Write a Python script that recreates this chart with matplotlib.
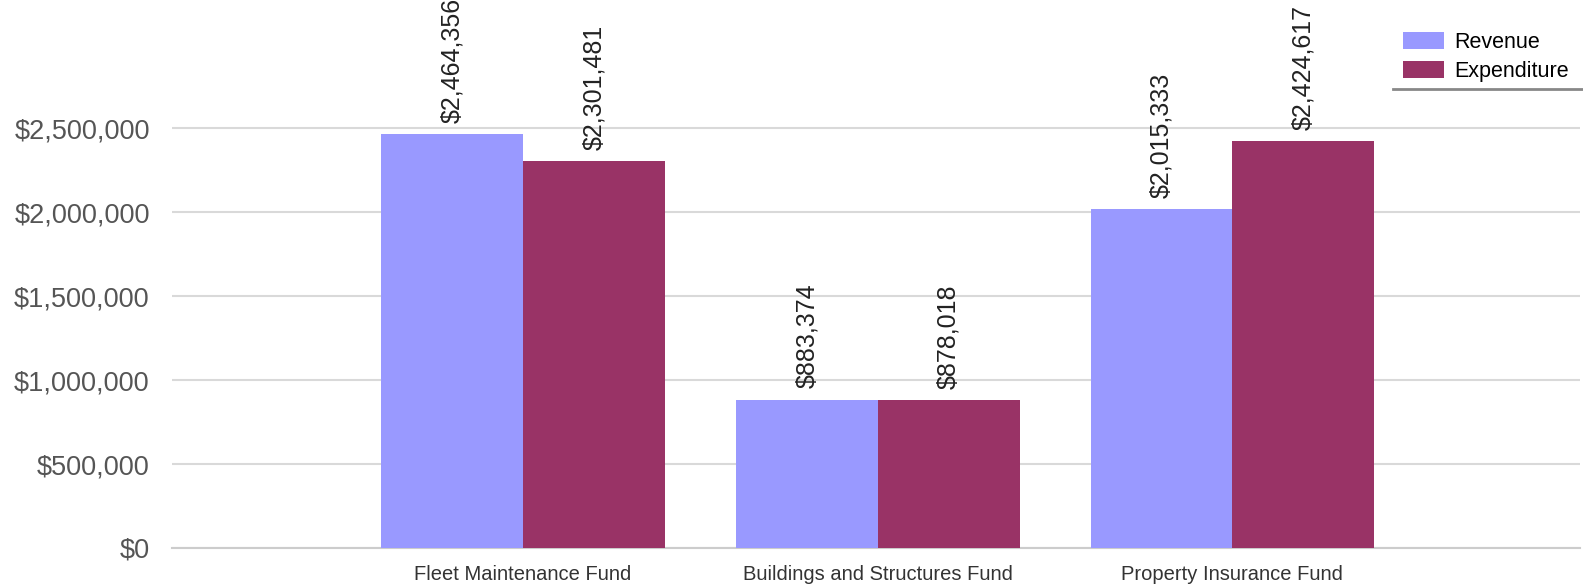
import matplotlib
matplotlib.use('Agg')
import matplotlib.pyplot as plt
import numpy as np
from matplotlib.lines import Line2D

plt.rcParams['font.family'] = ['Liberation Sans', 'DejaVu Sans']

categories = ['Fleet Maintenance Fund', 'Buildings and Structures Fund', 'Property Insurance Fund']
revenue = [2464356, 883374, 2015333]
expenditure = [2301481, 878018, 2424617]
yticks = [0, 500000, 1000000, 1500000, 2000000, 2500000]

W, H = 1583, 587
fig = plt.figure(figsize=(W / 100, H / 100), dpi=100)
ax = fig.add_axes([172 / W, 1 - 548 / H, (1580 - 172) / W, 548 / H])

x = np.arange(len(categories))
w = 0.4
b1 = ax.bar(x - w / 2, revenue, w, color='#9999ff', label='Revenue', zorder=3)
b2 = ax.bar(x + w / 2, expenditure, w, color='#993366', label='Expenditure', zorder=3)

fmt = lambda v: '${:,.0f}'.format(v)
for bars in (b1, b2):
    ax.bar_label(bars, labels=[fmt(v) for v in bars.datavalues], rotation=90,
                 padding=8, fontsize=18, color='#222222', clip_on=False)

ax.set_xlim(-0.99, 2.98)
ax.set_ylim(0, 2500000 * 548 / 420)
ax.set_yticks(yticks)
ax.set_yticklabels([fmt(v) for v in yticks], fontsize=19.5, color='#555555')
ax.set_xticks(x)
ax.set_xticklabels(categories, fontsize=14.5, color='#333333')
ax.tick_params(axis='y', length=0, pad=16)
ax.tick_params(axis='x', length=0, pad=12)
ax.grid(axis='y', color='#d9d9d9', linewidth=1.5, zorder=0)
for s in ['top', 'right', 'left']:
    ax.spines[s].set_visible(False)
ax.spines['bottom'].set_color('#cccccc')
ax.spines['bottom'].set_linewidth(1.5)

fig.legend(loc='upper left', bbox_to_anchor=(1403 / W, 1 - 32 / H), frameon=False,
           fontsize=15.5, handlelength=1.9, handleheight=0.85, handletextpad=0.5,
           labelspacing=0.35, borderpad=0, borderaxespad=0)
fig.add_artist(Line2D([1393 / W, 1], [1 - 89 / H, 1 - 89 / H], color='#888888',
                      linewidth=2, transform=fig.transFigure))

plt.savefig('out.png', dpi=100)
plt.close()
